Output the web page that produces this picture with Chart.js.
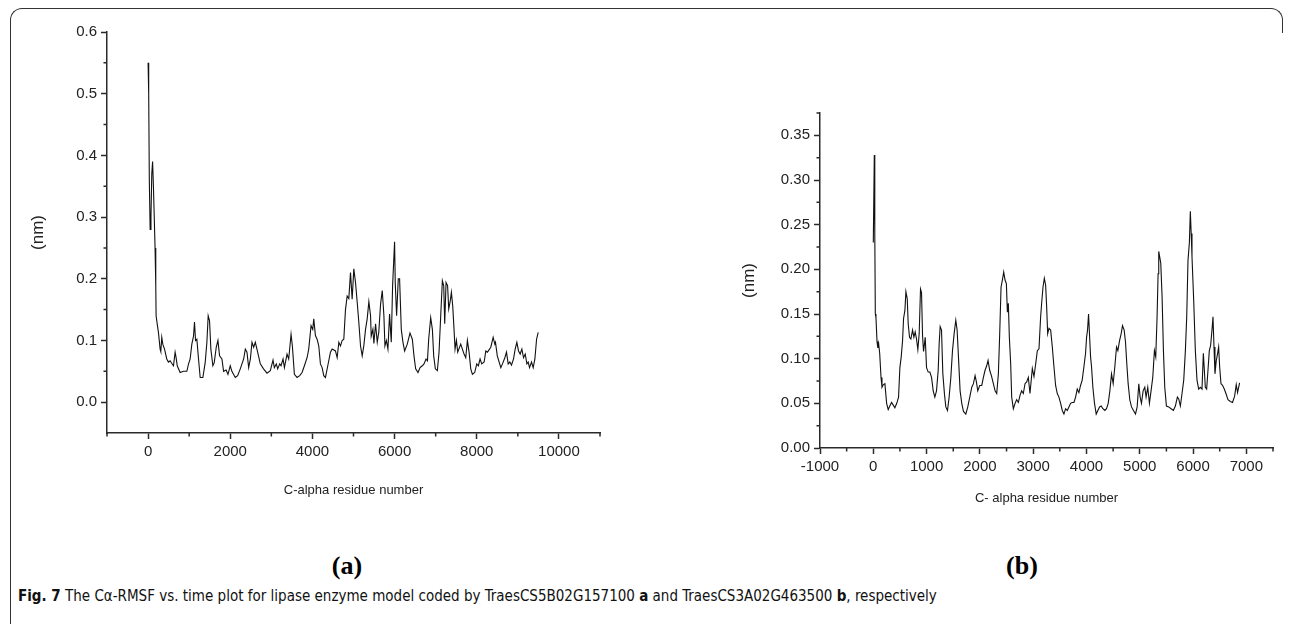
<!DOCTYPE html>
<html>
<head>
<meta charset="utf-8">
<title>Cα-RMSF plots</title>
<script src="https://cdn.jsdelivr.net/npm/chart.js"></script>
<style>
    body { margin: 0; background: #fff; width: 1290px; height: 624px; overflow: hidden; position: relative; }
    .frame { position: absolute; left: 10px; top: 8px; width: 1252px; height: 700px; border-left: 1.5px solid #333; border-top: 1.5px solid #333; border-top-left-radius: 12px; }
    .corner { position: absolute; left: 1262px; top: 8px; width: 20px; height: 24px; border-top: 1.5px solid #333; border-right: 1.5px solid #333; border-top-right-radius: 12px; }
    canvas { position: absolute; }
    #chartA { left: 20px; top: 18px; }
    #chartB { left: 720px; top: 100px; }
    .panel { position: absolute; top: 551px; font-family: 'Liberation Serif', 'Times New Roman', serif; font-weight: bold; font-size: 26px; transform: translateX(-50%); }
    .caption { position: absolute; left: 18px; top: 587px; font-family: 'Liberation Sans Narrow', 'DejaVu Sans Condensed', sans-serif; font-size: 15px; white-space: nowrap; color: #111; transform-origin: 0 0; }
</style>
</head>
<body>
<div class="frame"></div>
<div class="corner"></div>
<canvas id="chartA" width="600" height="500"></canvas>
<canvas id="chartB" width="570" height="420"></canvas>
<div class="panel" style="left:347px">(a)</div>
<div class="panel" style="left:1022px">(b)</div>
<div class="caption" id="caption"><b>Fig. 7</b> The Cα-RMSF vs. time plot for lipase enzyme model coded by TraesCS5B02G157100 <b>a</b> and TraesCS3A02G463500 <b>b</b>, respectively</div>

<script>
// (a) TraesCS5B02G157100
const residueA = [0,15,30,50,70,90,110,130,170,187,195,228,252,293,310,333,358,400,455,495,535,575,618,658,680,710,780,860,943,985,1024,1065,1106,1130,1155,1187,1228,1268,1333,1390,1431,1463,1496,1528,1577,1610,1659,1700,1740,1797,1838,1900,1944,2000,2040,2122,2180,2244,2326,2367,2407,2448,2490,2529,2570,2610,2650,2732,2810,2895,2975,3041,3073,3122,3155,3204,3236,3285,3318,3382,3423,3480,3512,3561,3626,3691,3748,3805,3870,3910,3967,4008,4033,4073,4114,4155,4195,4236,4276,4317,4374,4439,4480,4561,4602,4643,4683,4724,4764,4805,4846,4886,4927,4967,5008,5049,5090,5130,5171,5212,5252,5293,5333,5374,5415,5431,5472,5496,5537,5578,5615,5659,5700,5740,5765,5800,5838,5878,5919,5952,6000,6016,6049,6090,6122,6163,6204,6245,6309,6375,6432,6472,6513,6570,6620,6675,6716,6765,6800,6830,6879,6920,6952,6992,7041,7082,7123,7163,7196,7220,7253,7290,7318,7350,7383,7415,7447,7472,7505,7537,7610,7650,7691,7732,7772,7813,7854,7894,7950,8000,8040,8081,8122,8180,8220,8260,8342,8399,8440,8456,8500,8586,8626,8684,8724,8765,8805,8846,8895,8935,8976,9017,9057,9098,9139,9180,9220,9252,9285,9333,9374,9415,9456,9496];
const rmsfA = [0.55,0.50,0.36,0.28,0.30,0.37,0.39,0.35,0.25,0.19,0.14,0.124,0.113,0.086,0.082,0.105,0.094,0.086,0.07,0.065,0.067,0.063,0.059,0.081,0.073,0.059,0.048,0.05,0.05,0.062,0.07,0.094,0.107,0.13,0.10,0.102,0.07,0.04,0.04,0.064,0.097,0.14,0.132,0.086,0.059,0.064,0.089,0.10,0.075,0.07,0.05,0.052,0.045,0.059,0.05,0.04,0.043,0.054,0.07,0.086,0.081,0.056,0.07,0.097,0.089,0.097,0.086,0.062,0.054,0.047,0.051,0.068,0.056,0.062,0.054,0.062,0.059,0.07,0.056,0.078,0.07,0.11,0.091,0.045,0.04,0.043,0.048,0.059,0.072,0.086,0.124,0.118,0.135,0.108,0.102,0.091,0.062,0.056,0.043,0.04,0.059,0.081,0.086,0.083,0.072,0.097,0.091,0.10,0.102,0.15,0.172,0.168,0.21,0.167,0.216,0.194,0.162,0.129,0.091,0.075,0.092,0.118,0.135,0.163,0.14,0.107,0.118,0.095,0.127,0.097,0.113,0.159,0.181,0.14,0.091,0.10,0.086,0.143,0.097,0.189,0.26,0.194,0.14,0.2,0.2,0.118,0.097,0.083,0.094,0.112,0.102,0.075,0.054,0.048,0.056,0.059,0.062,0.07,0.067,0.102,0.137,0.118,0.075,0.054,0.051,0.081,0.14,0.197,0.189,0.127,0.194,0.189,0.151,0.162,0.178,0.156,0.118,0.086,0.10,0.081,0.094,0.086,0.078,0.072,0.10,0.081,0.054,0.045,0.048,0.062,0.059,0.07,0.062,0.065,0.083,0.081,0.089,0.105,0.094,0.097,0.075,0.056,0.062,0.072,0.081,0.062,0.065,0.06,0.07,0.086,0.097,0.083,0.078,0.086,0.072,0.078,0.062,0.065,0.056,0.065,0.056,0.07,0.102,0.113];

// (b) TraesCS3A02G463500
const residueB = [0,19,28,38,50,70,85,100,120,145,163,190,218,250,280,310,343,375,405,440,474,499,524,549,568,593,612,637,655,680,705,737,762,786,811,836,861,886,905,924,943,974,999,1030,1061,1093,1124,1155,1186,1218,1236,1255,1280,1305,1336,1361,1392,1423,1455,1486,1517,1548,1573,1598,1629,1660,1692,1736,1773,1810,1848,1879,1910,1935,1960,1997,2035,2066,2097,2128,2153,2184,2216,2253,2285,2316,2347,2372,2397,2422,2447,2472,2497,2516,2534,2553,2578,2597,2628,2660,2690,2722,2753,2784,2815,2847,2878,2909,2940,2984,3015,3047,3078,3109,3140,3159,3184,3209,3234,3253,3272,3296,3328,3359,3390,3421,3452,3483,3515,3546,3577,3608,3640,3671,3702,3733,3765,3796,3827,3858,3889,3920,3952,3983,4002,4020,4039,4058,4077,4095,4120,4151,4183,4214,4245,4276,4308,4345,4376,4408,4439,4470,4501,4532,4564,4589,4620,4651,4676,4707,4732,4757,4782,4813,4845,4882,4920,4951,4982,5007,5032,5063,5094,5119,5150,5181,5212,5244,5275,5300,5325,5344,5356,5394,5419,5444,5469,5500,5544,5587,5631,5668,5706,5731,5762,5793,5825,5856,5881,5905,5931,5949,5965,5980,6012,6043,6074,6105,6137,6168,6193,6212,6230,6255,6280,6305,6330,6355,6374,6393,6411,6436,6461,6480,6499,6524,6555,6586,6617,6655,6700,6740,6780,6810,6835,6873];
const rmsfB = [0.23,0.328,0.24,0.15,0.146,0.119,0.112,0.117,0.106,0.079,0.068,0.071,0.072,0.05,0.043,0.047,0.051,0.048,0.045,0.05,0.057,0.09,0.102,0.12,0.145,0.154,0.175,0.167,0.139,0.124,0.122,0.132,0.124,0.13,0.122,0.11,0.128,0.178,0.174,0.126,0.108,0.124,0.09,0.085,0.085,0.079,0.064,0.057,0.064,0.087,0.117,0.136,0.132,0.083,0.06,0.046,0.042,0.057,0.079,0.109,0.128,0.143,0.132,0.102,0.064,0.05,0.041,0.038,0.046,0.057,0.068,0.072,0.081,0.074,0.064,0.07,0.07,0.079,0.087,0.092,0.098,0.087,0.081,0.072,0.064,0.061,0.083,0.128,0.18,0.188,0.197,0.188,0.184,0.152,0.162,0.124,0.094,0.057,0.044,0.05,0.054,0.051,0.059,0.064,0.061,0.072,0.074,0.079,0.061,0.089,0.08,0.094,0.109,0.111,0.147,0.162,0.18,0.19,0.182,0.158,0.128,0.134,0.132,0.113,0.091,0.07,0.061,0.057,0.05,0.042,0.038,0.044,0.042,0.046,0.05,0.051,0.051,0.057,0.066,0.062,0.07,0.076,0.091,0.106,0.124,0.132,0.15,0.126,0.102,0.091,0.068,0.05,0.038,0.042,0.046,0.047,0.044,0.042,0.044,0.05,0.064,0.083,0.072,0.091,0.113,0.109,0.12,0.128,0.137,0.132,0.119,0.094,0.072,0.054,0.046,0.042,0.038,0.046,0.072,0.057,0.05,0.064,0.068,0.057,0.068,0.05,0.064,0.079,0.109,0.102,0.147,0.195,0.22,0.207,0.169,0.109,0.068,0.047,0.046,0.044,0.042,0.047,0.057,0.055,0.047,0.061,0.076,0.109,0.147,0.21,0.23,0.265,0.24,0.214,0.165,0.109,0.076,0.066,0.068,0.066,0.106,0.087,0.068,0.066,0.087,0.109,0.115,0.132,0.147,0.113,0.083,0.098,0.106,0.113,0.091,0.072,0.07,0.066,0.061,0.054,0.052,0.051,0.058,0.071,0.062,0.073];

// axis ticks (labelled) and minor ticks
const xTicksA = [0, 2000, 4000, 6000, 8000, 10000];
const xMinorA = [-1000, 1000, 3000, 5000, 7000, 9000, 11000];
const yTicksA = [0, 0.1, 0.2, 0.3, 0.4, 0.5, 0.6];
const yMinorA = [0.05, 0.15, 0.25, 0.35, 0.45, 0.55];

const xTicksB = [-1000, 0, 1000, 2000, 3000, 4000, 5000, 6000, 7000];
const xMinorB = [-500, 500, 1500, 2500, 3500, 4500, 5500, 6500, 7500];
const yTicksB = [0, 0.05, 0.1, 0.15, 0.2, 0.25, 0.3, 0.35];
const yMinorB = [0.025, 0.075, 0.125, 0.175, 0.225, 0.275, 0.325, 0.375];

const ink = '#2a2a2a';

// short minor ticks, drawn from the scales
const minorTicks = {
    id: 'minorTicks',
    afterDraw(chart, args, opts) {
        const { ctx, chartArea, scales } = chart;
        ctx.save();
        ctx.strokeStyle = ink;
        ctx.lineWidth = 1.5;
        ctx.beginPath();
        opts.x.forEach(v => {
            const px = scales.x.getPixelForValue(v);
            ctx.moveTo(px, chartArea.bottom);
            ctx.lineTo(px, chartArea.bottom + 3.5);
        });
        opts.y.forEach(v => {
            const py = scales.y.getPixelForValue(v);
            ctx.moveTo(chartArea.left, py);
            ctx.lineTo(chartArea.left - 3.5, py);
        });
        ctx.stroke();
        ctx.restore();
    }
};

function makeChart(id, xs, ys, s) {
    const points = xs.map((x, i) => ({ x: x, y: ys[i] }));
    return new Chart(document.getElementById(id), {
        type: 'line',
        data: { datasets: [{ data: points, borderColor: '#111', borderWidth: 1.1, pointRadius: 0, tension: 0 }] },
        plugins: [minorTicks],
        options: {
            responsive: false,
            animation: false,
            devicePixelRatio: 1,
            layout: { padding: s.padding },
            plugins: {
                legend: { display: false },
                tooltip: { enabled: false },
                minorTicks: { x: s.xMinor, y: s.yMinor }
            },
            scales: {
                x: {
                    type: 'linear',
                    min: s.xMin, max: s.xMax,
                    afterBuildTicks: sc => { sc.ticks = s.xTicks.map(v => ({ value: v })); },
                    afterFit: sc => { sc.height = s.xHeight; },
                    grid: { drawOnChartArea: false, tickLength: 6, tickWidth: 1.5, tickColor: ink },
                    border: { color: ink, width: 1.5 },
                    ticks: { color: '#222', padding: 4, maxRotation: 0, autoSkip: false, font: { family: 'Liberation Sans', size: 15 }, callback: v => String(v) },
                    title: { display: true, text: s.xTitle, color: '#222', padding: { bottom: s.xTitlePad }, font: { family: 'Liberation Sans', size: 13 } }
                },
                y: {
                    type: 'linear',
                    min: s.yMin, max: s.yMax,
                    afterBuildTicks: sc => { sc.ticks = s.yTicks.map(v => ({ value: v })); },
                    afterFit: sc => { sc.width = s.yWidth; },
                    grid: { drawOnChartArea: false, tickLength: 6, tickWidth: 1.5, tickColor: ink },
                    border: { color: ink, width: 1.5 },
                    ticks: { color: '#222', padding: 4, autoSkip: false, font: { family: 'Liberation Sans', size: 15 }, callback: v => v.toFixed(s.digits) },
                    title: { display: true, text: '(nm)', color: '#222', padding: { top: s.yTitlePad }, font: { family: 'Liberation Sans', size: 17 } }
                }
            }
        }
    });
}

makeChart('chartA', residueA, rmsfA, {
    xMin: -1000, xMax: 11000, yMin: -0.05, yMax: 0.6,
    xTicks: xTicksA, xMinor: xMinorA, yTicks: yTicksA, yMinor: yMinorA,
    digits: 1, xTitle: 'C-alpha residue number',
    padding: { left: 0, top: 14, right: 20, bottom: 0 },
    yWidth: 87, xHeight: 85, xTitlePad: 20, yTitlePad: 8
});

makeChart('chartB', residueB, rmsfB, {
    xMin: -1000, xMax: 7500, yMin: 0, yMax: 0.375,
    xTicks: xTicksB, xMinor: xMinorB, yTicks: yTicksB, yMinor: yMinorB,
    digits: 2, xTitle: 'C- alpha residue number',
    padding: { left: 0, top: 13, right: 17, bottom: 0 },
    yWidth: 100, xHeight: 72, xTitlePad: 14, yTitlePad: 19
});
</script>
</body>
</html>
